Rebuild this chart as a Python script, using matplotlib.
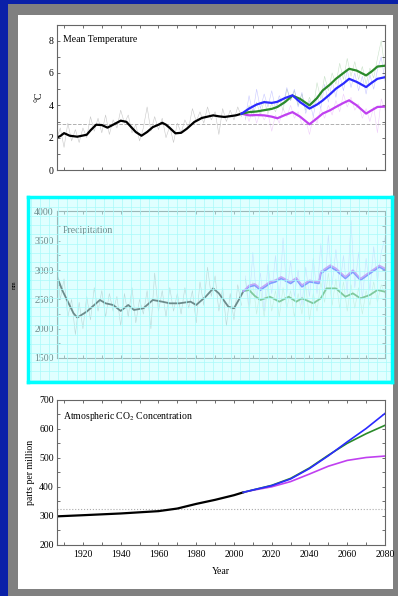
import numpy as np
import matplotlib
matplotlib.use("Agg")
import matplotlib.pyplot as plt
from matplotlib.patches import Rectangle

plt.rcParams['font.family'] = ['Liberation Serif', 'DejaVu Serif']
plt.rcParams['mathtext.fontset'] = 'stix'

# ---------------- data ----------------
# mean temperature, smoothed historical
temp_hist_years = [1906, 1908, 1910, 1913, 1917, 1922, 1924, 1927, 1930, 1933, 1936, 1940, 1943, 1946,
                   1948, 1951, 1954, 1957, 1960, 1962, 1964, 1966, 1969, 1972, 1975, 1979, 1983, 1986,
                   1989, 1992, 1995, 1998, 2001, 2004]
temp_hist = [2.0, 2.1, 2.28, 2.12, 2.06, 2.18, 2.45, 2.8, 2.78, 2.62, 2.8, 3.05, 2.98, 2.6,
             2.35, 2.12, 2.35, 2.65, 2.8, 2.92, 2.8, 2.6, 2.27, 2.3, 2.55, 2.97, 3.22, 3.3,
             3.38, 3.32, 3.28, 3.33, 3.38, 3.48]
# annual (noisy) historical, every second year 1906-2004
temp_noise_years = list(range(1906, 2005, 2))
temp_hist_noise = [1.9, 2.6, 1.4, 2.9, 1.8, 2.5, 1.7, 2.6, 2.0, 3.3, 2.4, 3.2, 2.3, 3.4, 2.2, 3.1, 2.6,
                   3.7, 2.9, 3.4, 2.3, 2.8, 1.8, 2.6, 3.9, 2.4, 3.3, 2.5, 3.2, 2.0, 2.7, 1.7, 2.9, 2.3,
                   3.1, 2.6, 3.8, 3.0, 3.6, 2.9, 3.9, 3.1, 3.6, 2.2, 3.8, 3.0, 3.7, 3.1, 3.9, 3.3]

# scenarios, smoothed
scen_years = [2004, 2008, 2012, 2016, 2020, 2023, 2027, 2031, 2035, 2040, 2044, 2047, 2051, 2054,
              2058, 2061, 2065, 2070, 2073, 2076, 2080]
temp_green = [3.48, 3.58, 3.62, 3.7, 3.78, 3.9, 4.2, 4.6, 4.4, 4.0, 4.45, 4.92, 5.3, 5.64,
              6.0, 6.26, 6.15, 5.85, 6.1, 6.4, 6.45]
temp_blue = [3.48, 3.8, 4.05, 4.2, 4.15, 4.22, 4.45, 4.62, 4.2, 3.8, 4.05, 4.3, 4.7, 5.03,
             5.35, 5.64, 5.45, 5.13, 5.4, 5.64, 5.74]
temp_mag = [3.48, 3.38, 3.4, 3.38, 3.3, 3.2, 3.4, 3.58, 3.3, 2.83, 3.2, 3.49, 3.7, 3.9,
            4.15, 4.31, 4.0, 3.49, 3.7, 3.9, 3.92]
# scenarios, annual values every second year 2006-2080
scen_noise_years = list(range(2006, 2081, 2))
temp_green_noise = [3.1, 4.0, 3.3, 4.2, 3.4, 4.3, 3.5, 4.1, 3.6, 4.4, 3.7, 5.0, 4.3, 4.9, 4.0, 4.7, 3.7,
                    4.5, 3.8, 5.4, 4.4, 5.8, 4.9, 6.0, 5.3, 6.6, 5.6, 6.9, 5.8, 6.7, 5.6, 6.4, 5.3,
                    6.3, 5.7, 6.9, 8.0, 6.2]
temp_blue_noise = [3.2, 4.6, 3.5, 5.0, 3.8, 4.7, 3.9, 4.9, 3.8, 4.6, 4.0, 5.1, 4.3, 5.0, 3.9, 4.8, 3.5,
                   4.3, 3.3, 4.6, 3.8, 5.3, 4.2, 5.5, 4.5, 5.9, 4.9, 6.2, 5.1, 6.0, 4.9, 5.8, 4.7,
                   5.9, 5.0, 6.2, 7.0, 5.5]
temp_mag_noise = [3.7, 3.0, 3.8, 2.9, 3.6, 3.1, 3.5, 2.4, 3.4, 2.9, 3.8, 3.3, 4.0, 3.2, 3.6, 2.8, 3.1,
                  2.2, 3.3, 2.9, 3.8, 3.2, 4.0, 3.4, 4.3, 3.6, 4.7, 3.9, 4.5, 3.7, 4.1, 3.2, 3.8,
                  3.0, 3.9, 2.3, 4.4, 3.7]

# precipitation (mm)
prec_hist_years = [1906, 1909, 1912, 1915, 1917, 1922, 1925, 1929, 1932, 1936, 1940, 1944, 1947, 1952,
                   1955, 1957, 1962, 1966, 1971, 1977, 1980, 1985, 1989, 1992, 1997, 2000, 2003, 2005]
prec_hist = [2914, 2660, 2461, 2264, 2190, 2291, 2376, 2490, 2433, 2405, 2303, 2405, 2320, 2348,
             2433, 2490, 2461, 2433, 2433, 2461, 2405, 2546, 2688, 2603, 2376, 2348, 2518, 2640]
prec_hist_noise = [3100, 2500, 2850, 2200, 2500, 1900, 2450, 2000, 2550, 2150, 2700, 2300, 2650, 2200,
                   2600, 2300, 2550, 2050, 2600, 2200, 2700, 2100, 2500, 2250, 2650, 2000, 2950, 2300,
                   2650, 2200, 2700, 2300, 2600, 2250, 2700, 2350, 2650, 2100, 2800, 2400, 3050, 2550,
                   2900, 2300, 2700, 2050, 2600, 2150, 2750, 2400]
prec_up_years = [2005, 2008, 2011, 2014, 2019, 2022, 2025, 2030, 2033, 2036, 2040, 2045, 2046, 2051,
                 2054, 2059, 2063, 2067, 2072, 2077, 2080]
prec_blue = [2640, 2716, 2740, 2660, 2773, 2800, 2858, 2773, 2841, 2716, 2800, 2773, 2943, 3055,
             2999, 2858, 2970, 2829, 2943, 3055, 2999]
prec_mag = [2640, 2740, 2765, 2690, 2800, 2830, 2885, 2800, 2870, 2745, 2825, 2800, 2975, 3085,
            3030, 2885, 3000, 2855, 2970, 3080, 3030]
prec_green_years = [2005, 2008, 2011, 2014, 2019, 2024, 2029, 2033, 2036, 2042, 2046, 2049, 2054,
                    2059, 2063, 2067, 2072, 2076, 2080]
prec_green = [2640, 2660, 2560, 2490, 2546, 2461, 2546, 2461, 2518, 2433, 2518, 2688, 2688,
              2546, 2603, 2518, 2575, 2660, 2631]
prec_blue_noise = [2900, 2400, 3300, 2500, 2950, 2300, 3100, 2600, 3250, 2500, 3550, 2600, 3150, 2550,
                   3000, 2400, 3050, 2550, 3200, 2600, 3450, 2650, 3600, 2750, 3350, 2700, 3250, 2600,
                   3850, 2700, 3300, 2500, 3200, 2650, 3400, 2800, 3300, 3550]
prec_green_noise = [2850, 2300, 2800, 2250, 2700, 2200, 2750, 2300, 2650, 2200, 2700, 2350, 2650, 2200,
                    2600, 2250, 2750, 2150, 2600, 2300, 2800, 2450, 2950, 2400, 2850, 2350, 2800, 2300,
                    2750, 2350, 2700, 2250, 2650, 2400, 2800, 2450, 2750, 2600]

# CO2 (ppm)
co2_hist_years = [1906, 1920, 1940, 1960, 1970, 1980, 1990, 2000, 2005]
co2_hist = [297, 301, 307, 315, 324, 340, 354, 370, 380]
co2_scen_years = [2005, 2010, 2020, 2030, 2040, 2050, 2060, 2070, 2080]
co2_blue = [380, 388, 403, 426, 462, 506, 554, 600, 652]
co2_green = [380, 388, 404, 428, 464, 508, 549, 582, 611]
co2_mag = [380, 387, 399, 417, 443, 470, 490, 500, 505]

year_ticks = [1920, 1940, 1960, 1980, 2000, 2020, 2040, 2060, 2080]
year_labels = ['1920', '1940', '1960', '1980', '2000', '2020', '2040', '2060', '2080']

# colours
BLUE = '#2a2aff'
GREEN = '#2a8a2a'
MAG = '#c040f0'

# ---------------- figure layout (pixels) ----------------
W, H = 398, 596
fig = plt.figure(figsize=(W / 100, H / 100), dpi=100)
fig.patch.set_facecolor('#0a20a8')


def fr(x0, y0, x1, y1):
    # pixel box -> figure fraction [left, bottom, width, height]
    return [x0 / W, 1 - y1 / H, (x1 - x0) / W, (y1 - y0) / H]


def rect(x0, y0, x1, y1, **kw):
    l, b, w, h = fr(x0, y0, x1, y1)
    fig.add_artist(Rectangle((l, b), w, h, transform=fig.transFigure, **kw))


rect(8, 4, 398, 596, facecolor='#808080', edgecolor='none', zorder=0)
rect(18, 15, 393, 589, facecolor='white', edgecolor='none', zorder=0)


def style_axes(ax, ymin, ymax, yticks, minor):
    ax.set_xlim(1906, 2080)
    ax.set_ylim(ymin, ymax)
    ax.set_facecolor('none')
    ax.set_xticks(list(range(1910, 2081, 10)))
    ax.set_yticks(yticks)
    ax.set_yticks(minor, minor=True)
    ax.tick_params(axis='both', which='both', direction='in', top=True, right=True,
                   length=2.5, width=0.6, color='#555555', labelsize=7, pad=2)
    ax.tick_params(axis='x', labelbottom=False)
    for s in ax.spines.values():
        s.set_color('#666666')
        s.set_linewidth(0.8)


# ---------------- temperature ----------------
ax1 = fig.add_axes(fr(56.5, 24.5, 385, 170))
style_axes(ax1, 0, 9, [0, 2, 4, 6, 8], [1, 3, 5, 7, 9])
ax1.axhline(2.85, color='#b0b0b0', ls='--', lw=0.7)
ax1.plot(temp_noise_years, temp_hist_noise, color='#c8c8c8', lw=0.4)
ax1.plot(scen_noise_years, temp_green_noise, color=GREEN, alpha=0.25, lw=0.4)
ax1.plot(scen_noise_years, temp_blue_noise, color=BLUE, alpha=0.25, lw=0.4)
ax1.plot(scen_noise_years, temp_mag_noise, color=MAG, alpha=0.25, lw=0.4)
ax1.plot(temp_hist_years, temp_hist, color='black', lw=1.6)
ax1.plot(scen_years, temp_mag, color=MAG, lw=1.6)
ax1.plot(scen_years, temp_green, color=GREEN, lw=1.6)
ax1.plot(scen_years, temp_blue, color=BLUE, lw=1.6)
ax1.text(0.02, 0.93, 'Mean Temperature', transform=ax1.transAxes, fontsize=7, va='top')
ax1.set_ylabel('°C', fontsize=7, labelpad=4)

# ---------------- precipitation ----------------
ax2 = fig.add_axes(fr(56.5, 211.5, 385, 358))
style_axes(ax2, 1500, 4000, [1500, 2000, 2500, 3000, 3500, 4000], [1750, 2250, 2750, 3250, 3750])
ax2.plot(temp_noise_years, prec_hist_noise, color='#a8a8a8', lw=0.4)
ax2.plot(scen_noise_years, prec_green_noise, color=GREEN, alpha=0.3, lw=0.4)
ax2.plot(scen_noise_years, prec_blue_noise, color=BLUE, alpha=0.3, lw=0.4)
ax2.plot(prec_hist_years, prec_hist, color='black', lw=1.3)
ax2.plot(prec_green_years, prec_green, color=GREEN, lw=1.3)
ax2.plot(prec_up_years, prec_blue, color=BLUE, lw=1.3)
ax2.plot(prec_up_years, prec_mag, color=MAG, lw=1.1)
ax2.text(0.02, 0.9, 'Precipitation', transform=ax2.transAxes, fontsize=7, va='top')
ax2.set_ylabel('mm', fontsize=4, labelpad=12)

# cyan highlight box laid over the precipitation panel
ov = fig.add_axes(fr(28, 197, 392, 382), zorder=10)
ov.patch.set_facecolor((0.78, 1.0, 1.0, 0.55))
ov.set_xlim(0, 364)
ov.set_ylim(0, 185)
ov.set_xticks(np.arange(3, 364, 9.1))
ov.set_yticks(np.arange(2, 185, 9.1))
ov.grid(True, color='#a8fafa', lw=0.5)
ov.tick_params(length=0, labelbottom=False, labelleft=False)
for s in ov.spines.values():
    s.set_color('#00ffff')
    s.set_linewidth(2.5)

# ---------------- CO2 ----------------
ax3 = fig.add_axes(fr(56.5, 399.5, 385, 544.5))
style_axes(ax3, 200, 700, [200, 300, 400, 500, 600, 700], [250, 350, 450, 550, 650])
ax3.axhline(324, color='#aaaaaa', ls=':', lw=0.8)
ax3.plot(co2_hist_years, co2_hist, color='black', lw=1.6)
ax3.plot(co2_scen_years, co2_mag, color=MAG, lw=1.2)
ax3.plot(co2_scen_years, co2_green, color=GREEN, lw=1.2)
ax3.plot(co2_scen_years, co2_blue, color=BLUE, lw=1.2)
ax3.set_xticks(year_ticks, labels=year_labels)
ax3.set_xticks(list(range(1910, 2081, 10)), minor=True)
ax3.tick_params(axis='x', which='both', direction='in', top=True, length=2.5,
                labelbottom=True, labelsize=7, pad=4)
ax3.text(0.02, 0.93, r'Atmospheric CO$_2$ Concentration', transform=ax3.transAxes, fontsize=7, va='top')
ax3.set_ylabel('parts per million', fontsize=7, labelpad=3)
ax3.set_xlabel('Year', fontsize=7, labelpad=6)

fig.savefig('out.png', dpi=100, facecolor=fig.get_facecolor())
